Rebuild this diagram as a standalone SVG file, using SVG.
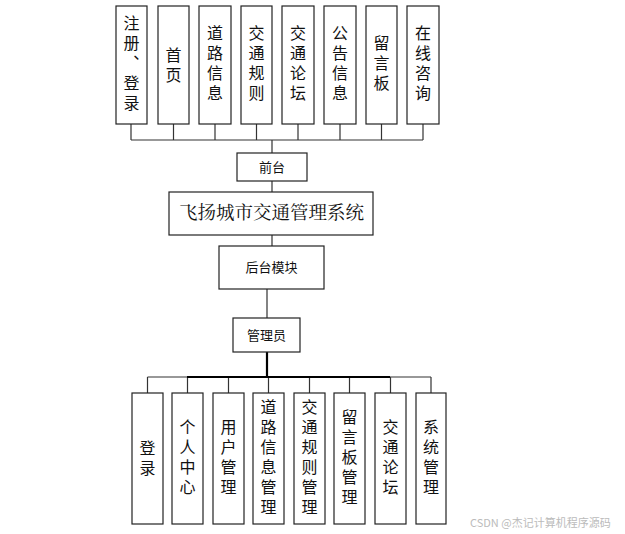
<svg xmlns="http://www.w3.org/2000/svg" width="625" height="534" viewBox="0 0 625 534">
<style>
.box{fill:#fff;stroke:#222;stroke-width:1.2}
.t{font-family:"Microsoft YaHei","Noto Sans CJK SC",sans-serif;font-size:16px;fill:#111;text-anchor:middle;writing-mode:vertical-rl;letter-spacing:4px}
.s{font-family:"Microsoft YaHei","Noto Sans CJK SC",sans-serif;font-size:13px;fill:#111;text-anchor:middle}
.ln{stroke:#333;stroke-width:1.2;fill:none}
</style>
<rect width="625" height="534" fill="#fff"/>
<g id="connectors">
<path class="ln" d="M131,124V140M173.5,124V140M215,124V140M256.5,124V140M298,124V140M340,124V140M381.5,124V140M423,124V140M131,140H423M272,140V153M272,181V192M272,235V246M267,289V318"/>
<path class="ln" d="M147.5,377V393M187.5,377V393M228.5,377V393M268.5,377V393M309.5,377V393M349.5,377V393M390.5,377V393M431,377V393M147.5,377H431"/>
<path stroke="#000" stroke-width="2.2" fill="none" d="M267,352V377M187,377H390"/>
</g>
<g id="n_reg"><rect class="box" x="116" y="6" width="31" height="118"/><text class="t" x="131.5" y="65">注册、登录</text></g>
<g id="n_home"><rect class="box" x="158" y="6" width="31" height="118"/><text class="t" x="173.5" y="67">首页</text></g>
<g id="n_road"><rect class="box" x="199" y="6" width="32" height="118"/><text class="t" x="215" y="65">道路信息</text></g>
<g id="n_rule"><rect class="box" x="241" y="6" width="31" height="118"/><text class="t" x="256.5" y="65">交通规则</text></g>
<g id="n_forum"><rect class="box" x="282" y="6" width="32" height="118"/><text class="t" x="298" y="65">交通论坛</text></g>
<g id="n_notice"><rect class="box" x="324" y="6" width="32" height="118"/><text class="t" x="340" y="65">公告信息</text></g>
<g id="n_msg"><rect class="box" x="366" y="6" width="31" height="118"/><text class="t" x="381.5" y="65">留言板</text></g>
<g id="n_consult"><rect class="box" x="407" y="6" width="32" height="118"/><text class="t" x="423" y="65">在线咨询</text></g>
<g id="n_front"><rect class="box" x="237" y="153" width="70" height="28"/><text class="s" x="272" y="172">前台</text></g>
<g id="n_system"><rect class="box" x="169" y="192" width="204" height="43"/><text x="271.5" y="219" style="font-size:18.5px;font-family:'Noto Serif CJK SC','Noto Sans CJK SC',serif;text-anchor:middle;fill:#111">飞扬城市交通管理系统</text></g>
<g id="n_back"><rect class="box" x="219" y="246" width="105" height="43"/><text class="s" x="271.5" y="272">后台模块</text></g>
<g id="n_admin"><rect class="box" x="233" y="318" width="67" height="34"/><text class="s" x="266.5" y="340">管理员</text></g>
<g id="b_login"><rect class="box" x="132" y="393" width="31" height="131"/><text class="t" x="147.5" y="460">登录</text></g>
<g id="b_center"><rect class="box" x="172" y="393" width="31" height="131"/><text class="t" x="187.5" y="459">个人中心</text></g>
<g id="b_user"><rect class="box" x="213" y="393" width="31" height="131"/><text class="t" x="228.5" y="459">用户管理</text></g>
<g id="b_road"><rect class="box" x="253" y="393" width="31" height="131"/><text class="t" x="268.5" y="459">道路信息管理</text></g>
<g id="b_rule"><rect class="box" x="294" y="393" width="31" height="131"/><text class="t" x="309.5" y="459">交通规则管理</text></g>
<g id="b_msg"><rect class="box" x="334" y="393" width="31" height="131"/><text class="t" x="349.5" y="459">留言板管理</text></g>
<g id="b_forum"><rect class="box" x="375" y="393" width="31" height="131"/><text class="t" x="390.5" y="459">交通论坛</text></g>
<g id="b_sys"><rect class="box" x="416" y="393" width="30" height="131"/><text class="t" x="431" y="459">系统管理</text></g>
<text x="470" y="527" style="font-family:'Noto Sans CJK SC',sans-serif;font-size:11px;fill:#bbb">CSDN @杰记计算机程序源码</text>
</svg>
